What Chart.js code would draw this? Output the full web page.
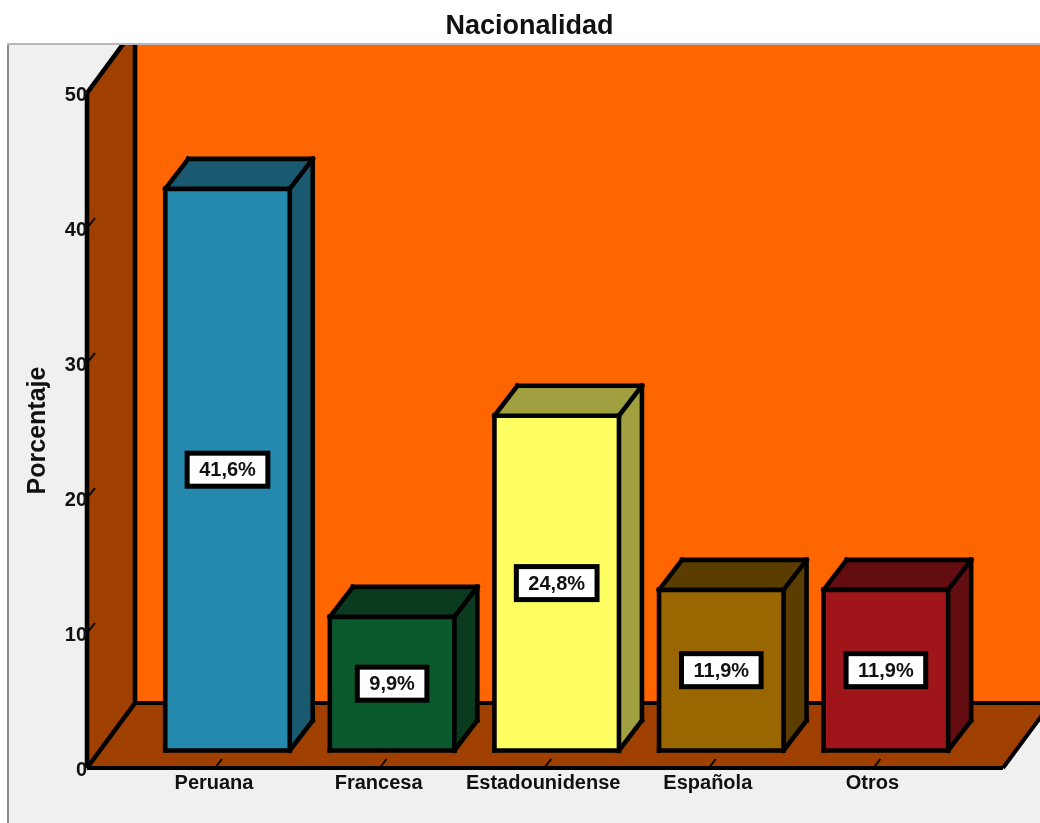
<!DOCTYPE html>
<html lang="es">
<head>
    <meta charset="UTF-8">
    <title>Nacionalidad</title>
    <style>
        body { margin: 0; background-color: #fff; }
        canvas { display: block; }
    </style>
</head>
<body>
    <canvas id="grafico" width="1040" height="823"></canvas>

    <script src="https://cdn.jsdelivr.net/npm/chart.js"></script>
    <script>
        const categorias = ['Peruana', 'Francesa', 'Estadounidense', 'Española', 'Otros'];
        const porcentajes = [41.6, 9.9, 24.8, 11.9, 11.9];
        const coloresFrente = ['#2589ae', '#0b5a2e', '#ffff61', '#996600', '#a0151a'];
        const coloresLado = ['#1a5a70', '#0a3b1e', '#a0a040', '#5c3d00', '#640d10'];

        // profundidad de la caja y de las barras
        const PARED_X = 87, PARED_DX = 48, PARED_DY = 65;
        const SUELO_ANCHO = 916;
        const BARRA_DX = 23, BARRA_DY = 30;
        const DESPLAZA_X = 13.5, DESPLAZA_Y = 17.5;
        const PANEL_X = 8, PANEL_Y = 45;
        const GROSOR = 4.6;
        const NEGRO = '#000';
        const NARANJA = '#ff6600', MARRON = '#a04000', GRIS = '#f0f0f0';

        function poligono(ctx, puntos, relleno) {
            ctx.beginPath();
            puntos.forEach((p, i) => i ? ctx.lineTo(p[0], p[1]) : ctx.moveTo(p[0], p[1]));
            ctx.closePath();
            ctx.fillStyle = relleno;
            ctx.fill();
        }

        function linea(ctx, x1, y1, x2, y2, ancho) {
            ctx.beginPath();
            ctx.moveTo(x1, y1);
            ctx.lineTo(x2, y2);
            ctx.lineWidth = ancho;
            ctx.strokeStyle = NEGRO;
            ctx.stroke();
        }

        const caja3d = {
            id: 'caja3d',
            afterLayout(chart) {
                // el título va centrado sobre el panel, no sobre el lienzo
                chart.titleBlock.left = 19;
                chart.titleBlock.right = 1040;
            },
            beforeDraw(chart) {
                const ctx = chart.ctx;
                const y0 = chart.scales.y.getPixelForValue(0);
                const y50 = chart.scales.y.getPixelForValue(50);
                const x1 = PARED_X, x2 = PARED_X + PARED_DX;
                const yFondo = y0 - PARED_DY;
                const xFin = x1 + SUELO_ANCHO;

                ctx.save();
                ctx.fillStyle = GRIS;
                ctx.fillRect(PANEL_X, PANEL_Y, 1040 - PANEL_X, 823 - PANEL_Y);
                ctx.fillStyle = '#8a8a8a';
                ctx.fillRect(PANEL_X - 1, PANEL_Y - 2, 2, 823 - PANEL_Y + 2);
                ctx.fillStyle = '#b8b8b8';
                ctx.fillRect(PANEL_X - 1, PANEL_Y - 2, 1040 - PANEL_X + 1, 2);

                ctx.beginPath();
                ctx.rect(PANEL_X, PANEL_Y, 1040 - PANEL_X, 823 - PANEL_Y);
                ctx.clip();

                ctx.fillStyle = NARANJA;
                ctx.fillRect(x2, PANEL_Y, 1040 - x2, yFondo - PANEL_Y);
                poligono(ctx, [[x1, y50], [x2, y50 - PARED_DY], [x2, yFondo], [x1, y0]], MARRON);
                poligono(ctx, [[x1, y0], [x2, yFondo], [xFin + PARED_DX, yFondo], [xFin, y0]], MARRON);

                linea(ctx, x1, y50, x1, y0, GROSOR);
                linea(ctx, x1, y50, x2, y50 - PARED_DY, GROSOR);
                linea(ctx, x2, PANEL_Y, x2, yFondo, GROSOR);
                linea(ctx, x1, y0, x2, yFondo, GROSOR);
                linea(ctx, x2, yFondo, xFin + PARED_DX, yFondo, 4);
                linea(ctx, x1, y0, xFin, y0, 4);
                linea(ctx, xFin, y0, xFin + PARED_DX, yFondo, 4);

                chart.scales.y.ticks.forEach(t => {
                    if (t.value > 0 && t.value < 50) {
                        const y = chart.scales.y.getPixelForValue(t.value);
                        linea(ctx, x1, y, x1 + 8, y - 10, 2);
                    }
                });
                categorias.forEach((c, i) => {
                    const x = chart.scales.x.getPixelForValue(i);
                    linea(ctx, x + 1, y0, x + 8, y0 - 9, 2);
                });
                ctx.restore();
            },
            beforeDatasetDraw(chart) {
                const ctx = chart.ctx;
                ctx.save();
                ctx.translate(DESPLAZA_X, -DESPLAZA_Y);
                chart.getDatasetMeta(0).data.forEach((barra, i) => {
                    const izq = barra.x - barra.width / 2, der = barra.x + barra.width / 2;
                    poligono(ctx, [[izq, barra.y], [izq + BARRA_DX, barra.y - BARRA_DY],
                        [der + BARRA_DX, barra.y - BARRA_DY], [der, barra.y]], coloresLado[i]);
                    poligono(ctx, [[der, barra.y], [der + BARRA_DX, barra.y - BARRA_DY],
                        [der + BARRA_DX, barra.base - BARRA_DY], [der, barra.base]], coloresLado[i]);
                });
            },
            afterDatasetDraw(chart) {
                const ctx = chart.ctx;
                chart.getDatasetMeta(0).data.forEach((barra, i) => {
                    const izq = barra.x - barra.width / 2, der = barra.x + barra.width / 2;
                    const arriba = barra.y, abajo = barra.base;
                    ctx.save();
                    ctx.lineCap = 'square';
                    linea(ctx, izq, arriba, der, arriba, GROSOR);
                    linea(ctx, izq, abajo, der, abajo, GROSOR);
                    linea(ctx, izq, arriba, izq, abajo, GROSOR);
                    linea(ctx, der, arriba, der, abajo, GROSOR);
                    linea(ctx, izq, arriba, izq + BARRA_DX, arriba - BARRA_DY, GROSOR);
                    linea(ctx, der, arriba, der + BARRA_DX, arriba - BARRA_DY, GROSOR);
                    linea(ctx, der, abajo, der + BARRA_DX, abajo - BARRA_DY, GROSOR);
                    linea(ctx, izq + BARRA_DX, arriba - BARRA_DY, der + BARRA_DX, arriba - BARRA_DY, GROSOR);
                    linea(ctx, der + BARRA_DX, arriba - BARRA_DY, der + BARRA_DX, abajo - BARRA_DY, GROSOR);
                    ctx.restore();

                    // etiqueta de porcentaje
                    const texto = porcentajes[i].toFixed(1).replace('.', ',') + '%';
                    ctx.font = 'bold 20px "Liberation Sans", Arial, sans-serif';
                    const anchoCaja = ctx.measureText(texto).width + 24;
                    const altoCaja = 33;
                    const cy = (arriba + abajo) / 2;
                    ctx.fillStyle = '#fff';
                    ctx.fillRect(barra.x - anchoCaja / 2, cy - altoCaja / 2, anchoCaja, altoCaja);
                    ctx.lineWidth = 5;
                    ctx.strokeStyle = NEGRO;
                    ctx.strokeRect(barra.x - anchoCaja / 2, cy - altoCaja / 2, anchoCaja, altoCaja);
                    ctx.fillStyle = '#111';
                    ctx.textAlign = 'center';
                    ctx.textBaseline = 'middle';
                    ctx.fillText(texto, barra.x, cy + 1);
                });
                ctx.restore();
            }
        };

        new Chart(document.getElementById('grafico').getContext('2d'), {
            type: 'bar',
            data: {
                labels: categorias,
                datasets: [{
                    label: 'Porcentaje',
                    data: porcentajes,
                    backgroundColor: coloresFrente,
                    borderWidth: 0,
                    barThickness: 124.5,
                    clip: false
                }]
            },
            plugins: [caja3d],
            options: {
                responsive: false,
                animation: false,
                devicePixelRatio: 1,
                layout: { padding: { left: 0, right: 85.3, top: 0, bottom: 0 } },
                plugins: {
                    legend: { display: false },
                    tooltip: { enabled: false },
                    title: {
                        display: true,
                        text: 'Nacionalidad',
                        color: '#111',
                        font: { family: '"Liberation Sans", Arial, sans-serif', size: 27, weight: 'bold' },
                        padding: { top: 10, bottom: 50.6 }
                    }
                },
                scales: {
                    x: {
                        afterFit(escala) { escala.height = 55; },
                        grid: { display: false, drawTicks: false },
                        border: { display: false },
                        ticks: {
                            color: '#111',
                            padding: 3,
                            maxRotation: 0,
                            autoSkip: false,
                            font: { family: '"Liberation Sans", Arial, sans-serif', size: 20, weight: 'bold' }
                        }
                    },
                    y: {
                        min: 0,
                        max: 50,
                        afterFit(escala) {
                            escala.width = 131.7;
                            // el padding de los ticks no debe empujar el área del gráfico
                            escala.paddingTop = 0;
                            escala.paddingBottom = 0;
                        },
                        grid: { display: false, drawTicks: false },
                        border: { display: false },
                        title: {
                            display: true,
                            text: 'Porcentaje',
                            color: '#111',
                            padding: { top: 23, bottom: 0 },
                            font: { family: '"Liberation Sans", Arial, sans-serif', size: 25, weight: 'bold' }
                        },
                        ticks: {
                            stepSize: 10,
                            color: '#111',
                            padding: 44.7,
                            labelOffset: 2,
                            font: { family: '"Liberation Sans", Arial, sans-serif', size: 20, weight: 'bold' }
                        }
                    }
                }
            }
        });
    </script>
</body>
</html>
